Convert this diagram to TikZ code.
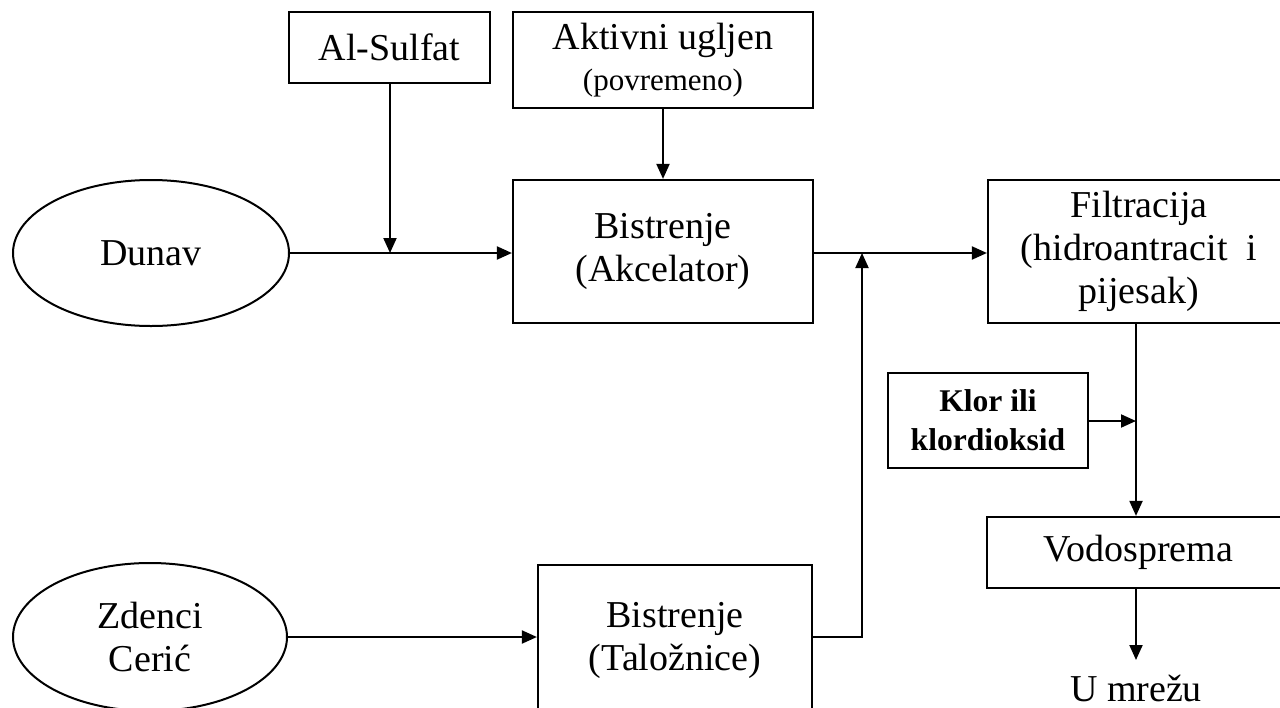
\documentclass[tikz,border=0pt]{standalone}
\usepackage{fontspec}
\setmainfont{Liberation Serif}
\usetikzlibrary{arrows.meta, positioning, shapes.geometric}

\begin{document}
\begin{tikzpicture}[x=0.5pt, y=-0.5pt,
    box/.style={draw, line width=1.1pt, inner sep=0pt, align=center, font=\fontsize{19}{21.5}\selectfont},
    source/.style={draw, ellipse, line width=1pt, inner sep=0pt, align=center, font=\fontsize{19}{21.5}\selectfont},
    arr/.style={line width=1pt, -{Triangle[length=7.5pt, width=6.5pt]}},
    line/.style={line width=1pt}]
    \useasboundingbox (0,0) rectangle (1280,707);
    \clip (0,0) rectangle (1280,707);

    % izvori
    \node[source, minimum width=138pt, minimum height=73pt] (dunav) at (151,253) {Dunav};
    \node[source, minimum width=137pt, minimum height=74pt] (zdenci) at (150,637) {Zdenci\\Ceri\'c};

    % kemikalije
    \node[box, minimum width=100.5pt, minimum height=35.5pt] (alsulfat) at (389.5,47.5) {Al-Sulfat};
    \node[box, minimum width=150pt, minimum height=48pt] (ugljen) at (663,60)
        {Aktivni ugljen\\[-1pt]{\fontsize{15.5}{16}\selectfont (povremeno)}};
    \node[box, minimum width=100pt, minimum height=47.5pt, font=\fontsize{15.8}{19.5}\selectfont\bfseries] (klor) at (988,420.5)
        {Klor ili\\klordioksid};

    % obrada
    \node[box, minimum width=150pt, minimum height=71.5pt] (akcelator) at (663,251.5) {Bistrenje\\(Akcelator)};
    \node[box, minimum width=137pt, minimum height=75pt] (taloznice) at (675,640) {Bistrenje\\(Talo\v{z}nice)};
    \node[box, minimum width=151pt, minimum height=71.5pt] (filtracija) at (1139,251.5)
        {Filtracija\\(hidroantracit~~i\\pijesak)};
    \node[box, minimum width=151.5pt, minimum height=35.5pt] (vodosprema) at (1138.5,552.5) {Vodosprema};
    \node[anchor=base, inner sep=0pt, font=\fontsize{19}{21.5}\selectfont] (mrezu) at (1136,701) {U mre\v{z}u};

    \coordinate (dozirS) at (390,253);
    \coordinate (spoj) at (862,253);
    \coordinate (dozirK) at (1136,421);
    \coordinate (izlaz) at (1136,660);

    % tokovi
    \draw[arr] (dunav.east |- dozirS) -- (akcelator.west |- dozirS);
    \draw[arr] (alsulfat.south -| dozirS) -- (dozirS);
    \draw[arr] (ugljen.south) -- (akcelator.north);
    \draw[arr] (akcelator.east |- spoj) -- (filtracija.west |- spoj);
    \draw[arr] (zdenci.east) -- (taloznice.west |- zdenci.east);
    \draw[arr] (taloznice.east |- zdenci.east) -| (spoj);
    \draw[arr] (filtracija.south -| dozirK) -- (vodosprema.north -| dozirK);
    \draw[arr] (klor.east |- dozirK) -- (dozirK);
    \draw[arr] (vodosprema.south -| izlaz) -- (izlaz);
\end{tikzpicture}
\end{document}
